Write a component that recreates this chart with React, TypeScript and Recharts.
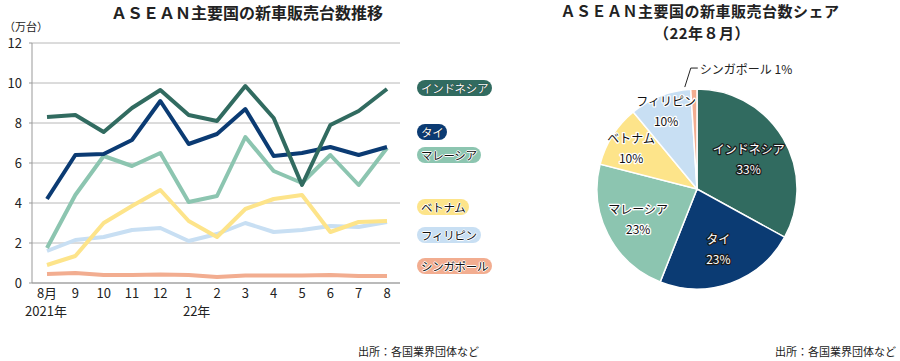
import React from 'react';
import { LineChart, Line, XAxis, YAxis, CartesianGrid, PieChart, Pie, Cell } from 'recharts';

const months = ['8月', '9', '10', '11', '12', '1', '2', '3', '4', '5', '6', '7', '8'];
const yearLabels = ['2021年', '', '', '', '', '22年', '', '', '', '', '', '', ''];
const yTicks = [0, 2, 4, 6, 8, 10, 12];

const indonesia = [8.3, 8.4, 7.55, 8.75, 9.65, 8.4, 8.1, 9.85, 8.25, 4.9, 7.9, 8.6, 9.7];
const thai = [4.2, 6.4, 6.45, 7.15, 9.1, 6.95, 7.45, 8.7, 6.35, 6.5, 6.8, 6.4, 6.8];
const malaysia = [1.75, 4.4, 6.35, 5.85, 6.5, 4.05, 4.35, 7.3, 5.6, 5.0, 6.4, 4.9, 6.75];
const vietnam = [0.9, 1.35, 3.0, 3.85, 4.65, 3.1, 2.3, 3.7, 4.2, 4.4, 2.55, 3.05, 3.1];
const philippines = [1.6, 2.15, 2.3, 2.65, 2.75, 2.1, 2.45, 3.0, 2.55, 2.65, 2.85, 2.8, 3.05];
const singapore = [0.45, 0.5, 0.4, 0.4, 0.42, 0.4, 0.3, 0.38, 0.38, 0.38, 0.4, 0.35, 0.35];

const seriesNames = ['インドネシア', 'タイ', 'マレーシア', 'ベトナム', 'フィリピン', 'シンガポール'];
const seriesKeys = ['idn', 'tha', 'mys', 'vnm', 'phl', 'sgp'];
const seriesValues = [indonesia, thai, malaysia, vietnam, philippines, singapore];
const colors = ['#316b60', '#0b3b73', '#8cc5b0', '#fde48a', '#c8dff3', '#f2ad90'];

const shareNames = ['インドネシア', 'タイ', 'マレーシア', 'ベトナム', 'フィリピン', 'シンガポール'];
const shareValues = [33, 23, 23, 10, 10, 1];

const FONT = '"Noto Sans CJK JP", "Noto Sans", sans-serif';

const lineData = months.map((m, i) => {
  const row: Record<string, any> = { month: m };
  seriesKeys.forEach((k, s) => {
    row[k] = seriesValues[s][i];
  });
  return row;
});

const pieData = shareNames.map((n, i) => ({ name: n, value: shareValues[i] }));

const XTick = (props: any) => {
  const { x, y, payload, index } = props;
  const yl = yearLabels[index];
  return (
    <g>
      <text x={x} y={y} dy="0.71em" textAnchor="middle" fontSize={13} fill="#222" fontFamily={FONT}>
        {payload.value}
      </text>
      {yl ? (
        <text x={x + (index === 0 ? -1 : 8)} y={y + 18} dy="0.71em" textAnchor="middle" fontSize={13} fill="#222" fontFamily={FONT}>
          {yl}
        </text>
      ) : null}
    </g>
  );
};

const RAD = Math.PI / 180;
const labelRadius: Record<string, number> = {
  'インドネシア': 0.6,
  'タイ': 0.63,
  'マレーシア': 0.66,
  'ベトナム': 0.78,
  'フィリピン': 0.84,
};

const renderPieLabel = (p: any) => {
  const cx = Number(p.cx);
  const cy = Number(p.cy);
  const midAngle = Number(p.midAngle);
  const outerRadius = Number(p.outerRadius);
  const index = p.index;
  const name = shareNames[index];
  const v = shareValues[index];
  const cos = Math.cos(-midAngle * RAD);
  const sin = Math.sin(-midAngle * RAD);
  if (!(name in labelRadius)) {
    const sx = cx + (outerRadius + 2) * cos - 9;
    const sy = cy + (outerRadius + 2) * sin;
    const mx = sx + 6;
    const my = sy - 19;
    const ex = mx + 7;
    return (
      <g>
        <path d={`M${sx},${sy}L${mx},${my}L${ex},${my}`} stroke="#222" strokeWidth={1} fill="none" />
        <text x={ex + 2} y={my} dominantBaseline="central" fontSize={12} fill="#222" fontFamily={FONT}>
          {`${name} ${v}%`}
        </text>
      </g>
    );
  }
  const r = outerRadius * labelRadius[name];
  const x = cx + r * cos;
  const y = cy + r * sin;
  const dark = index < 2;
  const st: React.CSSProperties = {
    fill: dark ? '#fff' : '#111',
    stroke: dark ? '#1a1a1a' : '#fff',
    strokeWidth: 2.5,
    paintOrder: 'stroke',
    strokeLinejoin: 'round',
    fontSize: 12,
    fontFamily: FONT,
  } as any;
  return (
    <g>
      <text x={x} y={y - 10} textAnchor="middle" dominantBaseline="central" style={st}>
        {name}
      </text>
      <text x={x} y={y + 10} textAnchor="middle" dominantBaseline="central" style={st}>
        {`${v}%`}
      </text>
    </g>
  );
};

const legendTop: Record<string, number> = {
  'インドネシア': 88,
  'タイ': 132,
  'マレーシア': 155,
  'ベトナム': 207,
  'フィリピン': 235,
  'シンガポール': 266,
};

export default function App() {
  return (
    <div style={{ position: 'absolute', left: 0, top: 0, width: 900, height: 361, background: '#fff', fontFamily: FONT, overflow: 'hidden' }}>
      <div style={{ position: 'absolute', left: 0, width: 494, top: 2, textAlign: 'center', fontSize: 16, fontWeight: 700, color: '#222', lineHeight: '20px', letterSpacing: 0 }}>
        ＡＳＥＡＮ主要国の新車販売台数推移
      </div>
      <div style={{ position: 'absolute', left: 4, top: 19, fontSize: 11, color: '#222', lineHeight: '14px' }}>（万台）</div>

      <div style={{ position: 'absolute', left: 0, top: 0 }}>
        <LineChart width={410} height={330} data={lineData} margin={{ top: 43, right: 10, bottom: 17, left: 0 }}>
          <CartesianGrid vertical={false} stroke="#b8b8b8" strokeWidth={1} />
          <XAxis
            dataKey="month"
            padding={{ left: 15, right: 13 }}
            height={30}
            tickSize={0}
            tickMargin={6}
            axisLine={{ stroke: '#999' }}
            tickLine={false}
            interval={0}
            tick={<XTick />}
          />
          <YAxis
            width={32}
            domain={[0, 12]}
            ticks={yTicks}
            tickSize={3}
            tickMargin={7}
            axisLine={{ stroke: '#999' }}
            tickLine={{ stroke: '#999' }}
            tick={{ fontSize: 13, fill: '#222', fontFamily: FONT }}
            interval={0}
          />
          {[5, 4, 3, 2, 1, 0].map((s) => (
            <Line
              key={seriesKeys[s]}
              type="linear"
              dataKey={seriesKeys[s]}
              stroke={colors[s]}
              strokeWidth={4}
              dot={false}
              activeDot={false}
              isAnimationActive={false}
              strokeLinejoin="round"
            />
          ))}
        </LineChart>
      </div>

      {seriesNames.map((n, i) => (
        <div
          key={n}
          style={{
            position: 'absolute',
            left: 417,
            top: legendTop[n] - 8,
            height: 16,
            lineHeight: '16px',
            padding: '0 4px',
            borderRadius: 8,
            background: colors[i],
            color: i < 2 ? '#fff' : '#111',
            fontSize: 11.5,
            letterSpacing: -0.3,
            whiteSpace: 'nowrap',
            textShadow: i < 2
              ? '0 0 1px #000'
              : '1px 0 0 #fff, -1px 0 0 #fff, 0 1px 0 #fff, 0 -1px 0 #fff',
          }}
        >
          {n}
        </div>
      ))}

      <div style={{ position: 'absolute', left: 358, top: 344, fontSize: 11, color: '#222', lineHeight: '14px', whiteSpace: 'nowrap' }}>出所：各国業界団体など</div>

      <div style={{ position: 'absolute', left: 500, width: 400, top: 2, textAlign: 'center', fontSize: 15, letterSpacing: 0.5, fontWeight: 700, color: '#222', lineHeight: '18px', whiteSpace: 'nowrap' }}>
        ＡＳＥＡＮ主要国の新車販売台数シェア
      </div>
      <div style={{ position: 'absolute', left: 500, width: 404, top: 24, textAlign: 'center', fontSize: 15, letterSpacing: 0.5, fontWeight: 700, color: '#222', lineHeight: '18px', whiteSpace: 'nowrap' }}>
        （22年８月）
      </div>

      <div style={{ position: 'absolute', left: 547, top: 39 }}>
        <PieChart width={300} height={300} margin={{ top: 0, right: 0, bottom: 0, left: 0 }}>
          <Pie
            data={pieData}
            dataKey="value"
            nameKey="name"
            cx={150}
            cy={150}
            outerRadius={100}
            startAngle={90}
            endAngle={-270}
            stroke="#fff"
            strokeWidth={1.5}
            label={renderPieLabel}
            labelLine={false}
            isAnimationActive={false}
          >
            {pieData.map((d, i) => (
              <Cell key={d.name} fill={colors[i]} />
            ))}
          </Pie>
        </PieChart>
      </div>

      <div style={{ position: 'absolute', right: 4, top: 344, fontSize: 11, color: '#222', lineHeight: '14px', whiteSpace: 'nowrap' }}>出所：各国業界団体など</div>
    </div>
  );
}
